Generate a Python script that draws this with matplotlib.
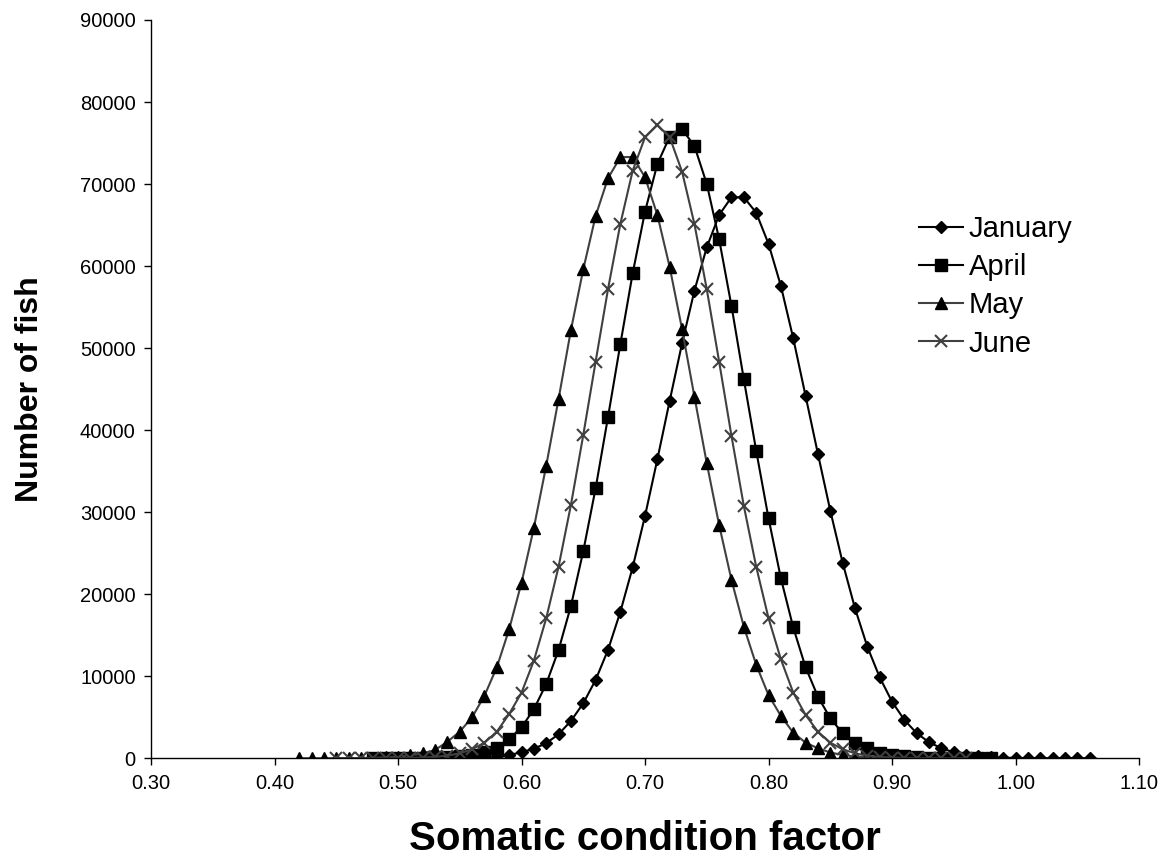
import numpy as np
import matplotlib
matplotlib.use("Agg")
import matplotlib.pyplot as plt

plt.rcParams['font.family'] = ['Liberation Sans', 'DejaVu Sans']

# values, one point every 0.01
jan_start = 0.50
jan_y = [1, 3, 6, 12, 20, 40, 80, 140, 250, 400,
         730, 1170, 1830, 2930, 4550, 6700, 9550, 13200, 17840, 23280,
         29540, 36450, 43600, 50590, 57000, 62290, 66230, 68390, 68390, 66510,
         62700, 57580, 51200, 44170, 37100, 30190, 23850, 18290, 13600, 9870,
         6900, 4670, 3050, 1950, 1220, 730, 430, 250, 140, 80,
         40, 20, 10, 5, 2, 1, 0]

apr_start = 0.48
apr_y = [1, 3, 7, 15, 30, 60, 120, 220, 400, 730,
         1290, 2320, 3780, 5970, 9060, 13200, 18570, 25250, 32910, 41570,
         50470, 59120, 66640, 72450, 75780, 76680, 74640, 70010, 63270, 55140,
         46200, 37500, 29260, 21940, 15950, 11090, 7510, 4880, 3050, 1900,
         1220, 680, 400, 230, 130, 70, 40, 20, 10, 5, 2]

may_start = 0.42
may_y = [1, 2, 4, 8, 15, 30, 60, 110, 200, 350,
         600, 1010, 2020, 3240, 5000, 7630, 11090, 15730, 21410, 28100,
         35670, 43800, 52200, 59610, 66110, 70700, 73270, 73300, 70830, 66230,
         59860, 52300, 44080, 35960, 28440, 21740, 16040, 11400, 7700, 5160,
         3120, 1900, 1220, 700, 400, 220, 120, 60, 30, 15, 5]

jun_start = 0.45
jun_y = [0, 1, 2, 5, 10, 20, 40, 80, 160, 320,
         600, 1100, 1900, 3240, 5400, 8000, 11900, 17070, 23360, 30880,
         39410, 48350, 57170, 65130, 71630, 75700, 77200, 75700, 71500, 65130,
         57170, 48350, 39290, 30760, 23360, 17070, 12070, 8000, 5280, 3240,
         1900, 1100, 600, 320, 160, 80, 40, 20, 10, 5, 2, 1]

x_ticks = [0.30, 0.40, 0.50, 0.60, 0.70, 0.80, 0.90, 1.00, 1.10]
y_ticks = [0, 10000, 20000, 30000, 40000, 50000, 60000, 70000, 80000, 90000]


def xs(start, ys):
    return np.round(start + 0.01 * np.arange(len(ys)), 2)


fig = plt.figure(figsize=(11.68, 8.65), dpi=100)
ax = fig.add_axes([0.1293, 0.1234, 0.8459, 0.8535])

grey = '#404040'
ax.plot(xs(jan_start, jan_y), jan_y, color='black', lw=1.5, marker='D',
        ms=6.5, mfc='black', mec='black', label='January')
ax.plot(xs(apr_start, apr_y), apr_y, color='black', lw=1.5, marker='s',
        ms=8, mfc='black', mec='black', label='April')
ax.plot(xs(may_start, may_y), may_y, color=grey, lw=1.5, marker='^',
        ms=8.5, mfc='black', mec='black', label='May')
ax.plot(xs(jun_start, jun_y), jun_y, color=grey, lw=1.5, marker='x',
        ms=8.5, mew=1.5, mec=grey, label='June')

ax.set_xlim(0.30, 1.10)
ax.set_ylim(0, 90000)
ax.set_xticks(x_ticks)
ax.set_xticklabels([f"{v:.2f}" for v in x_ticks])
ax.set_yticks(y_ticks)
ax.set_yticklabels([str(v) for v in y_ticks])
ax.tick_params(direction='out', length=5, width=1, labelsize=14.5, pad=6)

for side in ['top', 'right']:
    ax.spines[side].set_visible(False)
for side in ['left', 'bottom']:
    ax.spines[side].set_linewidth(1)

ax.set_xlabel("Somatic condition factor", fontsize=29, fontweight='bold', labelpad=20)
ax.set_ylabel("Number of fish", fontsize=23, fontweight='bold', labelpad=25)

ax.legend(loc='upper left', bbox_to_anchor=(0.777, 0.765), bbox_transform=fig.transFigure,
          frameon=False, fontsize=21, handlelength=1.5, handletextpad=0.2,
          labelspacing=0.35, borderaxespad=0)

fig.savefig("out.png", dpi=100)
